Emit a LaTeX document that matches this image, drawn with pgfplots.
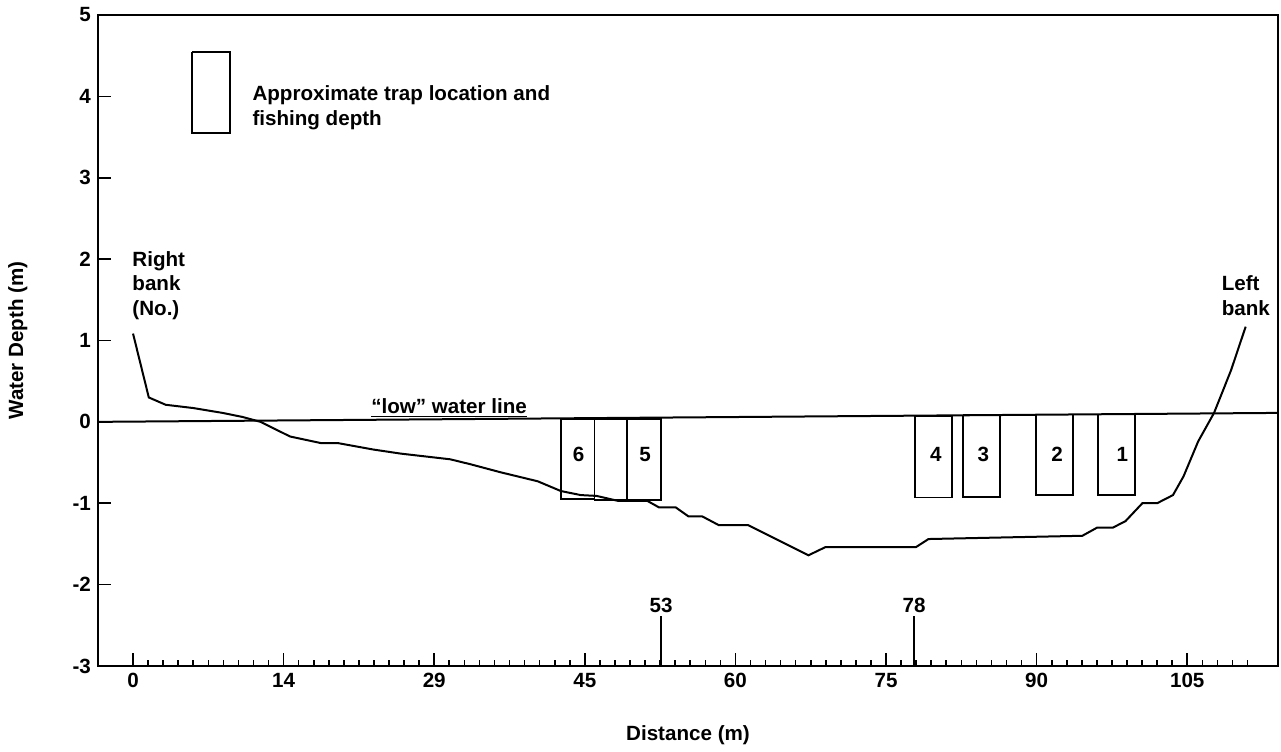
\documentclass[border=0pt]{standalone}
\usepackage{fontspec}
\setmainfont{Liberation Sans}
\usepackage{pgfplots}
\pgfplotsset{compat=1.18}

\begin{document}
\begin{tikzpicture}
\begin{axis}[
    scale only axis,
    width=590pt, height=325.5pt,
    xmin=-3.49, xmax=114.04,
    ymin=-3, ymax=5,
    axis line style={line width=1.1pt},
    tick align=inside,
    xtick pos=bottom, ytick pos=left,
    xtick={0,15,30,45,60,75,90,105},
    xticklabels={0,14,29,45,60,75,90,105},
    minor xtick={1.5,3,...,111},
    ytick={-3,-2,...,5},
    major tick length=6.5pt,
    minor tick length=3pt,
    tick style={black, line width=0.8pt},
    font=\fontsize{10.3pt}{12.2pt}\selectfont\bfseries,
    /pgf/number format/assume math mode=true,
    ticklabel style={font=\fontsize{10.3pt}{12.2pt}\selectfont\bfseries},
    xlabel={Distance (m)},
    ylabel={Water Depth (m)},
    every axis x label/.style={at={(axis description cs:0.5,0)}, yshift=-34.5pt, anchor=center},
    every axis y label/.style={at={(axis description cs:-0.068,0.5)}, rotate=90, anchor=center},
    clip=false,
]

% stream bed profile
\addplot[black, line width=1pt] coordinates {
    (0,1.085) (1.57,0.30) (3.25,0.21) (5.98,0.17) (8.92,0.11) (10.91,0.06) (12.70,0)
    (15.64,-0.18) (18.68,-0.26) (20.36,-0.26) (23.93,-0.34) (26.65,-0.39) (31.59,-0.46)
    (33.58,-0.52) (36.62,-0.62) (40.30,-0.73) (42.61,-0.85) (44.60,-0.90) (46.17,-0.91)
    (48.27,-0.97) (51.21,-0.97) (52.37,-1.05) (54.04,-1.05) (55.30,-1.16) (56.67,-1.16)
    (58.35,-1.27) (61.28,-1.27) (67.27,-1.64) (68.95,-1.54) (77.97,-1.54) (79.23,-1.44)
    (94.55,-1.40) (96.02,-1.30) (97.59,-1.30) (98.85,-1.22) (100.53,-1.0) (102.0,-1.0)
    (103.58,-0.9) (104.63,-0.67) (106.09,-0.24) (107.67,0.11) (109.35,0.63) (110.82,1.17)
};

% low water line
\addplot[black, line width=1pt] coordinates {(-3.49,0) (114.04,0.11)};

% traps
\addplot[black, line width=0.9pt] coordinates {(42.61,0.04) (45.96,0.04) (45.96,-0.95) (42.61,-0.95) (42.61,0.04)};
\addplot[black, line width=0.9pt] coordinates {(45.96,0.04) (49.22,0.04) (49.22,-0.96) (45.96,-0.96) (45.96,0.04)};
\addplot[black, line width=0.9pt] coordinates {(49.22,0.04) (52.57,0.04) (52.57,-0.96) (49.22,-0.96) (49.22,0.04)};
\addplot[black, line width=0.9pt] coordinates {(77.87,0.07) (81.54,0.07) (81.54,-0.93) (77.87,-0.93) (77.87,0.07)};
\addplot[black, line width=0.9pt] coordinates {(82.69,0.08) (86.37,0.08) (86.37,-0.92) (82.69,-0.92) (82.69,0.08)};
\addplot[black, line width=0.9pt] coordinates {(89.93,0.09) (93.61,0.09) (93.61,-0.90) (89.93,-0.90) (89.93,0.09)};
\addplot[black, line width=0.9pt] coordinates {(96.13,0.09) (99.80,0.09) (99.80,-0.90) (96.13,-0.90) (96.13,0.09)};

% key box
\addplot[black, line width=0.9pt] coordinates {(5.88,4.55) (9.65,4.55) (9.65,3.55) (5.88,3.55) (5.88,4.55)};

% distance markers
\addplot[black, line width=0.9pt] coordinates {(52.6,-3) (52.6,-2.38)};
\addplot[black, line width=0.9pt] coordinates {(77.8,-3) (77.8,-2.38)};

\node[anchor=south, inner sep=1pt] at (axis cs:52.6,-2.38) {53};
\node[anchor=south, inner sep=1pt] at (axis cs:77.8,-2.38) {78};

\node at (axis cs:44.39,-0.40) {6};
\node at (axis cs:51.0,-0.40) {5};
\node at (axis cs:79.96,-0.40) {4};
\node at (axis cs:84.69,-0.40) {3};
\node at (axis cs:92.03,-0.40) {2};
\node at (axis cs:98.54,-0.40) {1};

\node[anchor=west, align=left, inner sep=0pt] at (axis cs:11.86,3.86) {Approximate trap location and\\fishing depth};
\node[anchor=north west, align=left, inner sep=0pt] at (axis cs:-0.1,2.1) {Right\\bank\\(No.)};
\node[anchor=north west, align=left, inner sep=0pt] at (axis cs:108.4,1.8) {Left\\bank};
\node[anchor=south, inner sep=0.5pt] at (axis cs:31.48,0.03) {\underline{“low” water line}};

\end{axis}
\path (current axis.south west) ++(-49pt,-39pt) coordinate (bbA);
\path (current axis.north east) ++(1.5pt,7.5pt) coordinate (bbB);
\path (bbA) rectangle (bbB);
\end{tikzpicture}
\end{document}
